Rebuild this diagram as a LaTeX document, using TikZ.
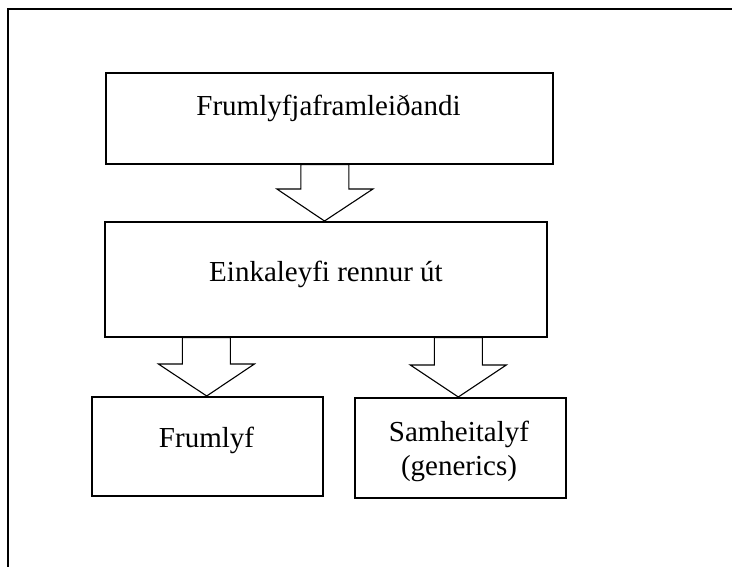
\documentclass[tikz,border=0pt]{standalone}
\usepackage{fontspec}
\setmainfont{Liberation Serif}
\usetikzlibrary{calc}
\tikzset{
  box/.style={draw=black, line width=1.6pt, rectangle, inner sep=0pt, anchor=north west},
  lbl/.style={font=\fontsize{29}{33.5}\selectfont, inner sep=0pt, anchor=base, align=center},
  barrow/.style={draw=black, line width=1.1pt, fill=white, line join=miter},
  frame/.style={draw=black, line width=1.4pt}
}
\newcommand{\bigarrow}[2]{%
  \path[barrow] let \p1=(#1), \p2=(#2), \n1={\y2+32pt} in
    (\x1-24pt,\y1) -- (\x1+24pt,\y1) -- (\x1+24pt,\n1) -- (\x1+48pt,\n1)
    -- (\x2,\y2) -- (\x1-48pt,\n1) -- (\x1-24pt,\n1) -- cycle;}
\begin{document}
\begin{tikzpicture}[x=1pt,y=-1pt]
\useasboundingbox (0,0) rectangle (732,566);
\clip (0,0) rectangle (732,566);
\draw[frame] (8,620) -- (8,9) -- (760,9);
% boxes
\node[box, minimum width=447pt, minimum height=91pt] (b1) at (105,72) {};
\node[box, minimum width=442pt, minimum height=115pt] (b2) at (104,221) {};
\node[box, minimum width=231pt, minimum height=99pt] (b3) at (91,396) {};
\node[box, minimum width=211pt, minimum height=100pt] (b4) at (354,397) {};
% labels
\node[lbl] (t1) at (328.5,115) {Frumlyfjaframleiðandi};
\node[lbl] (t2) at (326,281) {Einkaleyfi rennur út};
\node[lbl] (t3) at (206.5,447) {Frumlyf};
\node[lbl] (t4) at (459,475) {Samheitalyf\\(generics)};
% arrow anchors
\coordinate (a1s) at (b1.south -| 324.9,0);
\coordinate (a1e) at (b2.north -| 324.5,0);
\coordinate (a2s) at (b2.south -| 206.4,0);
\coordinate (a2e) at (b3.north -| 206.7,0);
\coordinate (a3s) at (b2.south -| 458.3,0);
\coordinate (a3e) at (b4.north -| 458.3,0);
\bigarrow{a1s}{a1e}
\bigarrow{a2s}{a2e}
\bigarrow{a3s}{a3e}
\end{tikzpicture}
\end{document}
